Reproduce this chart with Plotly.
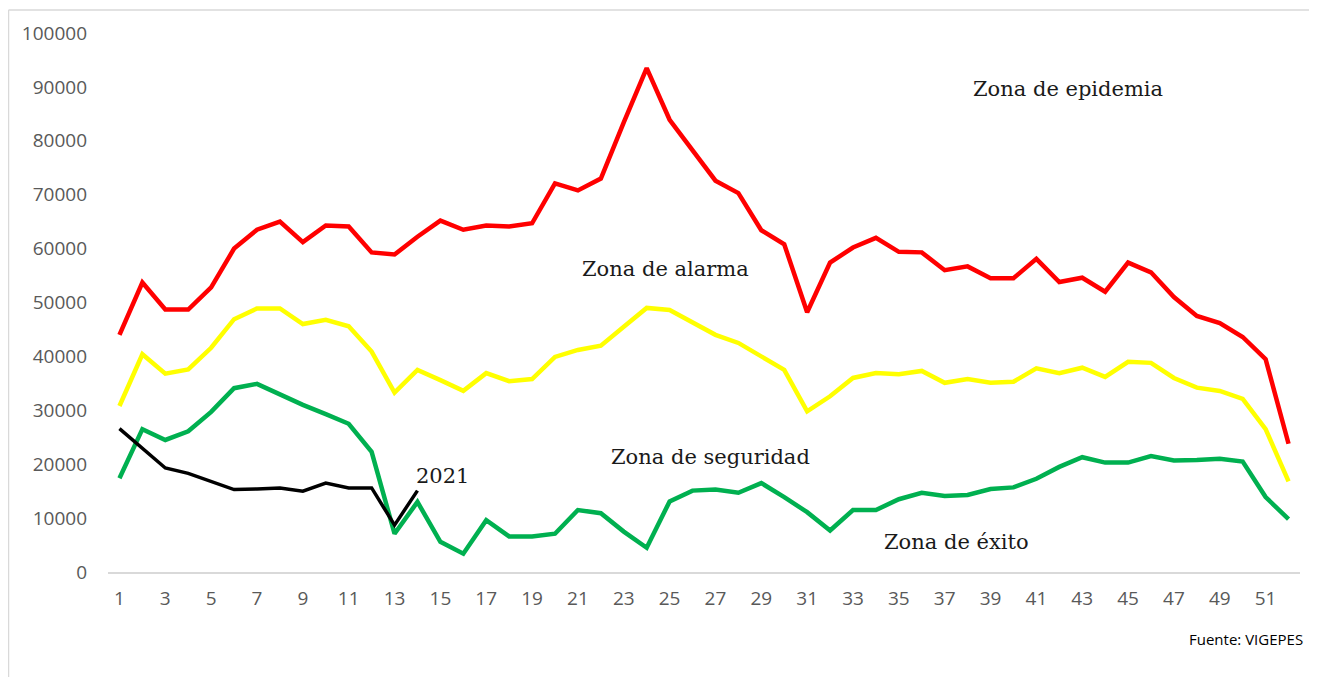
import plotly.graph_objects as go

weeks = list(range(1, 53))

zona_epidemia = [44000, 53700, 48700, 48700, 52800, 60000, 63500, 65000, 61200, 64300,
                 64100, 59300, 58900, 62200, 65200, 63500, 64300, 64100, 64700, 72100,
                 70800, 73000, 83400, 93500, 83900, 78100, 72600, 70300, 63400, 60800,
                 48200, 57400, 60200, 62000, 59400, 59300, 56000, 56700, 54500, 54500,
                 58100, 53800, 54600, 52000, 57400, 55600, 51000, 47500, 46200, 43600,
                 39500, 23800]

zona_alarma = [30800, 40400, 36800, 37600, 41600, 46900, 48900, 48900, 46000, 46800,
               45600, 40900, 33300, 37500, 35600, 33600, 36900, 35400, 35800, 39900,
               41200, 42000, 45500, 49000, 48600, 46400, 44000, 42500, 40000, 37500,
               29800, 32600, 36000, 36900, 36700, 37300, 35100, 35800, 35100, 35300,
               37800, 36900, 37900, 36200, 39000, 38800, 36000, 34200, 33600, 32100,
               26500, 16800]

zona_seguridad = [17400, 26500, 24500, 26100, 29700, 34100, 34900, 32900, 31000, 29300,
                  27500, 22300, 7100, 13000, 5600, 3400, 9600, 6600, 6600, 7100,
                  11500, 10900, 7500, 4500, 13100, 15100, 15300, 14700, 16500, 13900,
                  11100, 7700, 11500, 11500, 13500, 14700, 14100, 14300, 15400, 15700,
                  17300, 19500, 21300, 20300, 20300, 21500, 20700, 20800, 21000, 20500,
                  13900, 9800]

weeks_2021 = list(range(1, 15))
casos_2021 = [26600, 23000, 19300, 18300, 16800, 15300, 15400, 15600, 15000, 16500,
              15600, 15600, 8700, 15100]

xtick_vals = list(range(1, 53, 2))
ytick_vals = [0, 10000, 20000, 30000, 40000, 50000, 60000, 70000, 80000, 90000, 100000]
ytick_text = [str(v) for v in ytick_vals]

labels = [
    ("Zona de epidemia", 42.4, 89600),
    ("Zona de alarma", 24.8, 56300),
    ("Zona de seguridad", 26.8, 21400),
    ("Zona de éxito", 37.5, 5500),
    ("2021", 15.1, 17900),
]

fig = go.Figure()
series = [
    (zona_epidemia, "#FF0000", 4.5, weeks),
    (zona_alarma, "#FFFF00", 4.5, weeks),
    (zona_seguridad, "#00B050", 4.5, weeks),
    (casos_2021, "#000000", 3.5, weeks_2021),
]
for vals, color, w, xs in series:
    fig.add_trace(go.Scatter(x=xs, y=vals, mode="lines",
                             line=dict(color=color, width=w), showlegend=False,
                             hoverinfo="skip"))

for text, x, y in labels:
    fig.add_annotation(x=x, y=y, text=text, showarrow=False, xanchor="center",
                       yanchor="middle",
                       font=dict(family="DejaVu Serif", size=21, color="#1a1a1a"))

# page has an 8px body margin; plot area on screen: x 108..1300, y 33..572.5
PX0, PW, PY0, PH = 108, 1192, 33, 539.5


def paper_x(sx):
    return (sx - PX0) / PW


def paper_y(sy):
    return (PY0 + PH - sy) / PH


fig.add_annotation(xref="paper", yref="paper", x=paper_x(1305), y=paper_y(640),
                   text="Fuente: VIGEPES", showarrow=False,
                   xanchor="right", yanchor="middle",
                   font=dict(family="Open Sans", size=15, color="#000000"))

# outer frame (top and left borders)
fig.add_shape(type="line", xref="paper", yref="paper", x0=paper_x(8.5), x1=paper_x(1330),
              y0=paper_y(10), y1=paper_y(10), line=dict(color="#d9d9d9", width=1.5))
fig.add_shape(type="line", xref="paper", yref="paper", x0=paper_x(8.5), x1=paper_x(8.5),
              y0=paper_y(700), y1=paper_y(10), line=dict(color="#d9d9d9", width=1.5))

fig.update_layout(
    width=1309, height=669,
    margin=dict(l=100, r=17, t=25, b=104.5),
    paper_bgcolor="white", plot_bgcolor="white",
    xaxis=dict(range=[0.5, 52.5], tickvals=xtick_vals, showgrid=False, zeroline=False,
               showline=True, linecolor="#d9d9d9", linewidth=1.5, ticks="",
               ticklabelstandoff=8,
               tickfont=dict(family="Open Sans", size=19, color="#595959")),
    yaxis=dict(range=[0, 100000], tickvals=ytick_vals, ticktext=ytick_text,
               showgrid=False, zeroline=False,
               showline=False, ticks="", ticklabelstandoff=20,
               tickfont=dict(family="Open Sans", size=19, color="#595959")),
)

fig.write_html("out.html")
